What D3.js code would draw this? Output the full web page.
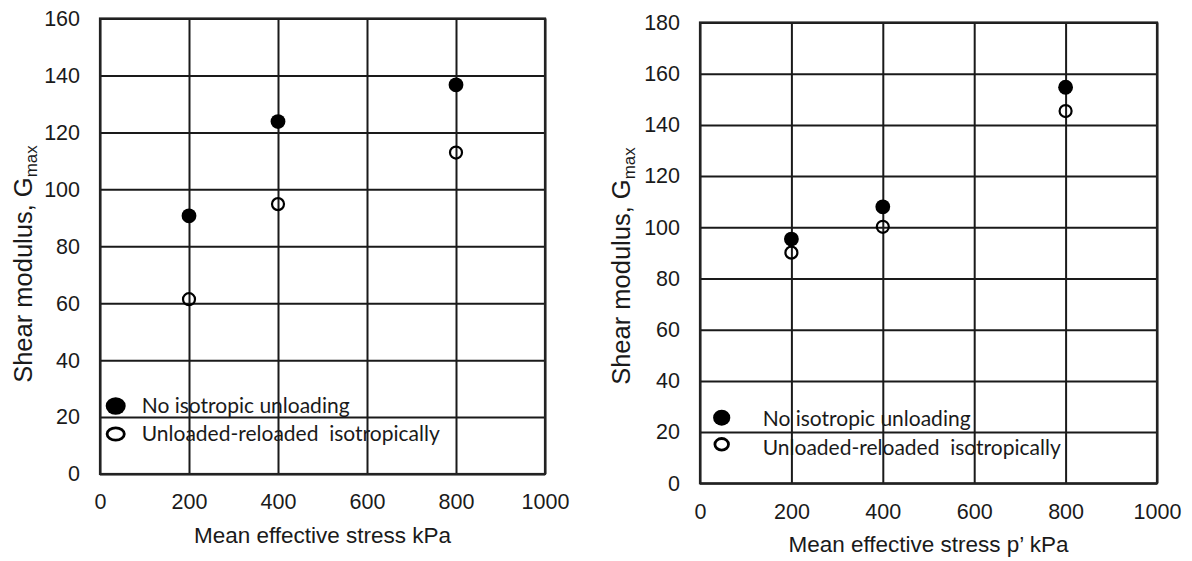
<!DOCTYPE html>
<html>
<head>
<meta charset="utf-8">
<script src="https://cdn.jsdelivr.net/npm/d3@7"></script>
<style>
  html, body { margin: 0; padding: 0; background: #fff; }
  svg { display: block; }
  .tick text { font-family: "Liberation Sans", Arial, sans-serif; fill: #1a1a1a; }
  .legend text { white-space: pre; }
</style>
</head>
<body>
<svg id="chart" width="1192" height="561"></svg>
<script>
// ---------------- data ----------------
const xTicks = [0, 200, 400, 600, 800, 1000];
const stress = [200, 400, 800];

const leftYTicks = [0, 20, 40, 60, 80, 100, 120, 140, 160];
const leftNoUnloading = [90.7, 123.8, 136.7];
const leftUnloaded = [61.4, 94.8, 112.9];

const rightYTicks = [0, 20, 40, 60, 80, 100, 120, 140, 160, 180];
const rightNoUnloading = [95.4, 108.0, 154.7];
const rightUnloaded = [90.1, 100.2, 145.4];

const legendLabels = ["No isotropic unloading", "Unloaded-reloaded  isotropically"];
const yTitle = "Shear modulus, G";
const yTitleSub = "max";
const leftXTitle = "Mean effective stress kPa";
const rightXTitle = "Mean effective stress p\u2019 kPa";

// ---------------- layout ----------------
const panels = [
  {
    left: 100, right: 545, top: 18.5, bottom: 474,
    yTicks: leftYTicks, filled: leftNoUnloading, open: leftUnloaded,
    xTitle: leftXTitle, yTitleX: 32, yTitleY: 264,
    legMarkX: 115.7, legTextX: 141.7, legY: [406, 434], legBase: [412.5, 441],
    legFilled: [10, 8.8], legOpen: [10, 7.6]
  },
  {
    left: 700, right: 1157, top: 22.5, bottom: 483.3,
    yTicks: rightYTicks, filled: rightNoUnloading, open: rightUnloaded,
    xTitle: rightXTitle, yTitleX: 630, yTitleY: 266,
    legMarkX: 721.7, legTextX: 762.7, legY: [417.7, 444.3], legBase: [425.5, 454.5],
    legFilled: [8.6, 8], legOpen: [8.2, 7.2]
  }
];

const svg = d3.select("#chart");
const ink = "#1a1a1a";
const fmt = d3.format("d");

panels.forEach(p => {
  const g = svg.append("g");
  const x = d3.scaleLinear().domain([0, 1000]).range([p.left, p.right]);
  const y = d3.scaleLinear().domain([0, d3.max(p.yTicks)]).range([p.bottom, p.top]);
  const w = p.right - p.left, h = p.bottom - p.top;

  // legend (drawn under gridlines, as in reference)
  const leg = g.append("g").attr("class", "legend");
  legendLabels.forEach((lab, i) => {
    leg.append("text")
      .attr("x", p.legTextX).attr("y", p.legBase[i])
      .attr("font-family", "Lato, 'Open Sans', sans-serif")
      .attr("font-size", 21)
      .attr("fill", ink)
      .text(lab);
  });
  leg.append("ellipse")
    .attr("cx", p.legMarkX).attr("cy", p.legY[0])
    .attr("rx", p.legFilled[0]).attr("ry", p.legFilled[1])
    .attr("fill", "#000");
  leg.append("ellipse")
    .attr("cx", p.legMarkX).attr("cy", p.legY[1])
    .attr("rx", p.legOpen[0] - 1.4).attr("ry", p.legOpen[1] - 1.4)
    .attr("fill", "none").attr("stroke", "#000").attr("stroke-width", 2.8);

  // gridlines
  g.append("g")
    .attr("transform", `translate(0,${p.bottom})`)
    .call(d3.axisBottom(x).tickValues(xTicks).tickSize(-h).tickFormat(""))
    .call(s => s.select(".domain").remove())
    .call(s => s.selectAll("line").attr("stroke", ink).attr("stroke-width", 2));
  g.append("g")
    .attr("transform", `translate(${p.left},0)`)
    .call(d3.axisLeft(y).tickValues(p.yTicks).tickSize(-w).tickFormat(""))
    .call(s => s.select(".domain").remove())
    .call(s => s.selectAll("line").attr("stroke", ink).attr("stroke-width", 2));

  // border
  g.append("rect")
    .attr("x", p.left).attr("y", p.top).attr("width", w).attr("height", h)
    .attr("fill", "none").attr("stroke", "#222").attr("stroke-width", 2.2);

  // tick labels
  g.append("g")
    .attr("transform", `translate(0,${p.bottom})`)
    .call(d3.axisBottom(x).tickValues(xTicks).tickFormat(fmt).tickSize(0).tickPadding(0))
    .call(s => s.select(".domain").remove())
    .call(s => s.selectAll("text").attr("font-size", 21.5).attr("dy", "1.65em"));
  g.append("g")
    .attr("transform", `translate(${p.left},0)`)
    .call(d3.axisLeft(y).tickValues(p.yTicks).tickFormat(fmt).tickSize(0).tickPadding(20))
    .call(s => s.select(".domain").remove())
    .call(s => s.selectAll("text").attr("font-size", 21.5));

  // data points
  g.selectAll("circle.filled").data(stress.map((s, i) => [s, p.filled[i]]))
    .join("circle").attr("class", "filled")
    .attr("cx", d => x(d[0])).attr("cy", d => y(d[1])).attr("r", 7.4)
    .attr("fill", "#000");
  g.selectAll("circle.open").data(stress.map((s, i) => [s, p.open[i]]))
    .join("circle").attr("class", "open")
    .attr("cx", d => x(d[0])).attr("cy", d => y(d[1])).attr("r", 6)
    .attr("fill", "none").attr("stroke", "#000").attr("stroke-width", 2.2);

  // x title
  g.append("text")
    .attr("x", (p.left + p.right) / 2).attr("y", p.bottom + 69)
    .attr("text-anchor", "middle")
    .attr("font-family", "'Liberation Sans', Arial, sans-serif")
    .attr("font-size", 22.5).attr("fill", ink)
    .text(p.xTitle);

  // y title
  const yt = g.append("text")
    .attr("transform", `translate(${p.yTitleX},${p.yTitleY}) rotate(-90)`)
    .attr("text-anchor", "middle")
    .attr("font-family", "'Liberation Sans', Arial, sans-serif")
    .attr("font-size", 25.5).attr("fill", ink);
  yt.append("tspan").text(yTitle);
  yt.append("tspan").attr("font-size", 17).attr("dy", 5).text(yTitleSub);
});
</script>
</body>
</html>
